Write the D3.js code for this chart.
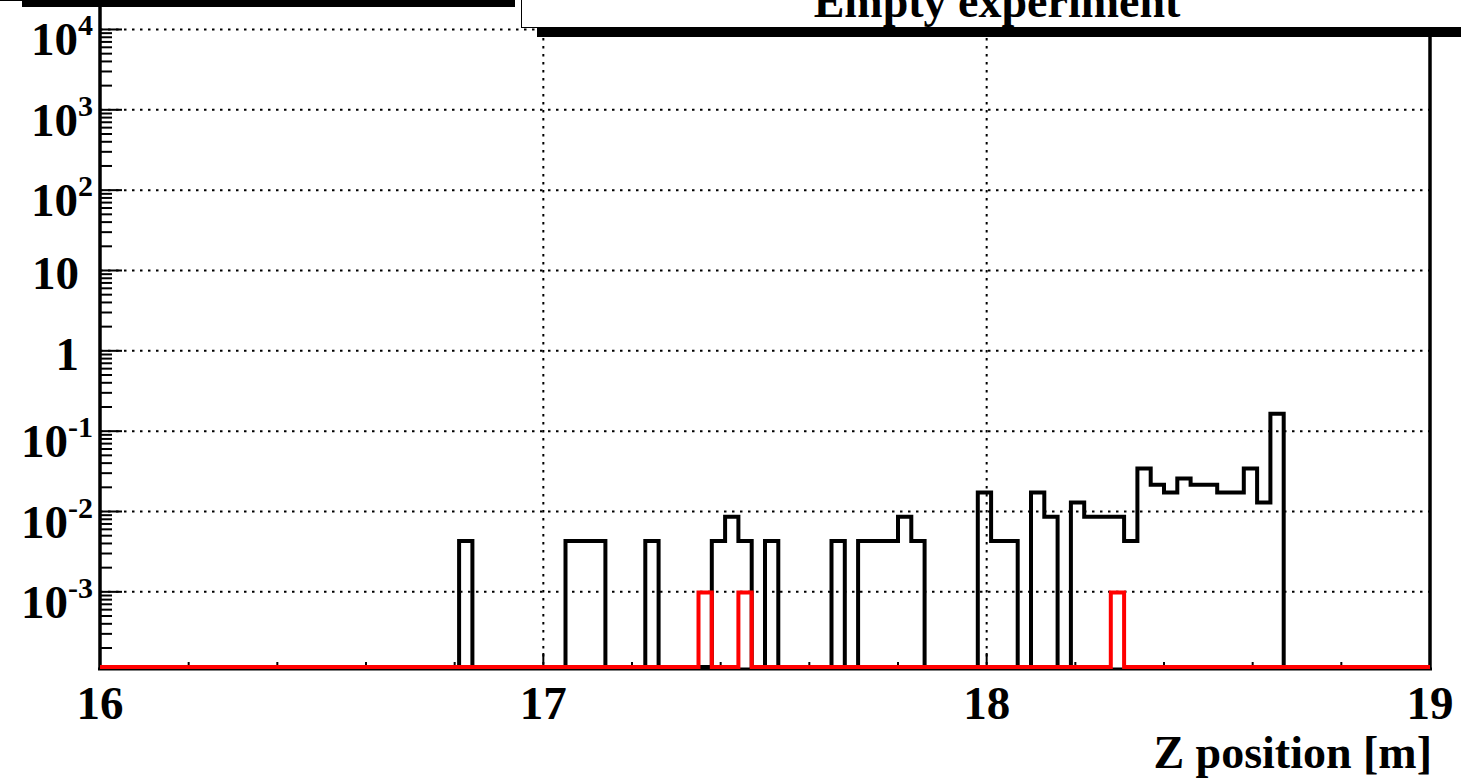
<!DOCTYPE html>
<html lang="en">
<head>
<meta charset="UTF-8">
<title>Empty experiment - Z position</title>
<script src="https://cdnjs.cloudflare.com/ajax/libs/d3/7.8.5/d3.min.js"></script>
<style>
  body { margin: 0; background: #fff; overflow: hidden; }
  svg { display: block; font-family: "Liberation Serif", "Times New Roman", serif; font-weight: bold; }
  .grid { stroke: #000; stroke-width: 2; stroke-dasharray: 2.5,5.5; fill: none; }
  .hist { fill: none; stroke-width: 4; stroke-linejoin: miter; }
</style>
</head>
<body>
<div id="chart"></div>
<script>
// histogram binning (100 bins of 3 cm)
const nBins = 100, zMin = 16, zMax = 19;

// black histogram: non-empty bins and their contents
const blackBins   = [27, 35, 36, 37, 41, 46, 47, 48, 50, 55, 57, 58, 59, 60, 61, 66, 67, 68,
                     70, 71, 73, 74, 75, 76, 77, 78, 79, 80, 81, 82, 83, 84, 85, 86, 87, 88];
const blackValues = [0.0043, 0.0043, 0.0043, 0.0043, 0.0043, 0.0043, 0.0086, 0.0043, 0.0043,
                     0.0043, 0.0043, 0.0043, 0.0043, 0.0086, 0.0043, 0.0172, 0.0043, 0.0043,
                     0.0172, 0.0086, 0.0129, 0.0086, 0.0086, 0.0086, 0.0043, 0.0344, 0.0215,
                     0.0172, 0.0258, 0.0215, 0.0215, 0.0172, 0.0172, 0.0344, 0.0129, 0.165];

// red histogram
const redBins   = [45, 48, 76];
const redValues = [0.00098, 0.00098, 0.00098];

const xTicks = [16, 17, 18, 19];
const yTicks = [1e4, 1e3, 1e2, 10, 1, 0.1, 0.01, 0.001];
const yTickBase = ["10", "10", "10", "10", "1", "10", "10", "10"];
const yTickExp  = ["4", "3", "2", "", "", "-1", "-2", "-3"];

const W = 1461, H = 780;
const svg = d3.select("#chart").append("svg").attr("width", W).attr("height", H);

const x = d3.scaleLinear().domain([zMin, zMax]).range([100, 1430]);
const y = d3.scaleLog().domain([1.16e-4, 3.1e4]).range([667, -10]);
const yMin = y.domain()[0];

// grid
const g = svg.append("g");
g.selectAll(".hg").data(yTicks).enter().append("line")
  .attr("class", "grid")
  .attr("x1", x(zMin)).attr("x2", x(zMax))
  .attr("y1", d => y(d)).attr("y2", d => y(d));
g.selectAll(".vg").data(xTicks.slice(1, -1)).enter().append("line")
  .attr("class", "grid")
  .attr("x1", d => x(d)).attr("x2", d => x(d))
  .attr("y1", y.range()[1]).attr("y2", y.range()[0]);

// frame
svg.append("line").attr("x1", 100).attr("x2", 100).attr("y1", -10).attr("y2", 670)
  .attr("stroke", "#000").attr("stroke-width", 3.5);
svg.append("line").attr("x1", 98).attr("x2", 1432).attr("y1", 669).attr("y2", 669)
  .attr("stroke", "#000").attr("stroke-width", 3);
svg.append("line").attr("x1", 1430).attr("x2", 1430).attr("y1", -10).attr("y2", 670)
  .attr("stroke", "#000").attr("stroke-width", 3.5);

// x ticks
const xMinor = d3.range(zMin, zMax + 1e-9, 0.2).filter(v => Math.abs(v - Math.round(v)) > 1e-6);
svg.selectAll(".xmin").data(xMinor).enter().append("line")
  .attr("x1", d => x(d)).attr("x2", d => x(d)).attr("y1", 668).attr("y2", 662)
  .attr("stroke", "#000").attr("stroke-width", 2);
svg.selectAll(".xmaj").data(xTicks).enter().append("line")
  .attr("x1", d => x(d)).attr("x2", d => x(d)).attr("y1", 668).attr("y2", 653)
  .attr("stroke", "#000").attr("stroke-width", 2);
svg.selectAll(".xlab").data(xTicks).enter().append("text")
  .attr("x", d => x(d)).attr("y", 719)
  .attr("text-anchor", "middle").attr("font-size", 47)
  .text(d => d);

// y ticks
const yMinor = [];
for (let n = -5; n <= 5; n++) for (let k = 2; k <= 9; k++) {
  const v = k * Math.pow(10, n);
  if (v > yMin && v < y.domain()[1]) yMinor.push(v);
}
svg.selectAll(".ymin").data(yMinor).enter().append("line")
  .attr("x1", 100).attr("x2", 112).attr("y1", d => y(d)).attr("y2", d => y(d))
  .attr("stroke", "#000").attr("stroke-width", 2);
svg.selectAll(".ymaj").data(yTicks).enter().append("line")
  .attr("x1", 100).attr("x2", 122).attr("y1", d => y(d)).attr("y2", d => y(d))
  .attr("stroke", "#000").attr("stroke-width", 2);

const ylab = svg.selectAll(".ylab").data(yTicks).enter().append("text")
  .attr("x", (d, i) => yTickExp[i] ? 93 : 79)
  .attr("y", (d, i) => y(d) + (yTickExp[i] ? 26 : 19))
  .attr("text-anchor", "end").attr("font-size", 47);
ylab.append("tspan").text((d, i) => yTickBase[i]);
ylab.filter((d, i) => yTickExp[i]).append("tspan")
  .attr("font-size", 30).attr("dy", -20)
  .text(d => yTickExp[yTicks.indexOf(d)]);

// axis title
svg.append("text").attr("x", 1432).attr("y", 768)
  .attr("text-anchor", "end").attr("font-size", 46)
  .text("Z position [m]");

// histograms
const binW = (zMax - zMin) / nBins;
function contents(bins, vals) {
  const c = new Array(nBins).fill(0);
  bins.forEach((b, i) => { c[b] = vals[i]; });
  return c;
}
function stepPoints(c) {
  const pts = [];
  c.forEach((v, i) => {
    const lo = zMin + i * binW;
    pts.push([lo, v], [lo + binW, v]);
  });
  return pts;
}
const line = d3.line()
  .x(d => x(d[0]))
  .y(d => y(Math.max(d[1], yMin)));

svg.append("path").attr("class", "hist")
  .attr("stroke", "#000")
  .attr("d", line(stepPoints(contents(blackBins, blackValues))));
svg.append("path").attr("class", "hist")
  .attr("stroke", "#ff0000")
  .attr("d", line(stepPoints(contents(redBins, redValues))));

// title pave with shadow (mostly outside the canvas)
svg.append("rect").attr("x", 537).attr("y", 0).attr("width", 940).attr("height", 37).attr("fill", "#000");
svg.append("rect").attr("x", 521.5).attr("y", -60).attr("width", 960).attr("height", 87.5)
  .attr("fill", "#fff").attr("stroke", "#000").attr("stroke-width", 1);
svg.append("text").attr("x", 997).attr("y", 17)
  .attr("text-anchor", "middle").attr("font-size", 46)
  .text("Empty experiment");

// shadow of the pave above the frame on the left
svg.append("rect").attr("x", 22).attr("y", -10).attr("width", 493).attr("height", 17).attr("fill", "#000");
svg.append("rect").attr("x", -10).attr("y", -60).attr("width", 515).attr("height", 60.5)
  .attr("fill", "#fff").attr("stroke", "#000").attr("stroke-width", 1);
</script>
</body>
</html>
